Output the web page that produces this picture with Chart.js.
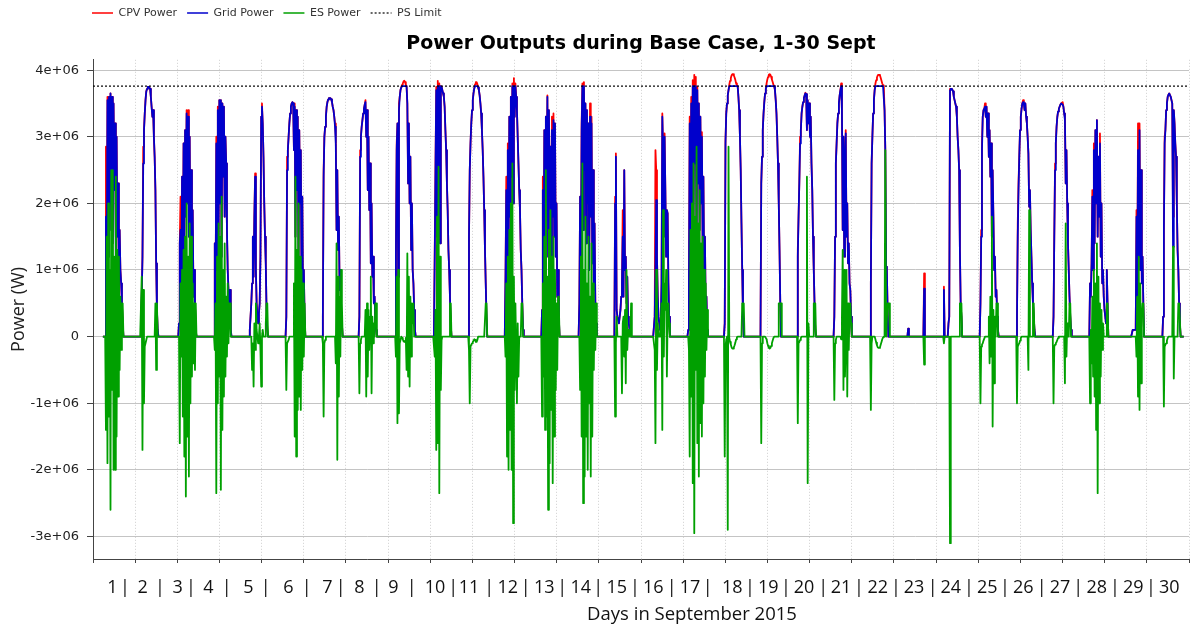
<!DOCTYPE html>
<html><head><meta charset="utf-8">
<script src="https://cdn.jsdelivr.net/npm/chart.js@4.4.1/dist/chart.umd.min.js"></script>
<style>html,body{margin:0;padding:0;background:#fff;}canvas{display:block;}</style>
</head><body>
<canvas id="c" width="1190" height="628"></canvas>
<script>
// ---- data (values in MW, i.e. units of 1e+06 W) ----
const chartTitle = 'Power Outputs during Base Case, 1-30 Sept';
const seriesNames = ['CPV Power', 'Grid Power', 'ES Power', 'PS Limit'];
const xAxisTitle = 'Days in September 2015';
const yAxisTitle = 'Power (W)';
const dayNumbers = [1,2,3,4,5,6,7,8,9,10,11,12,13,14,15,16,17,18,19,20,21,22,23,24,25,26,27,28,29,30];
const sampleHours = [6.5,7,7.5,8,8.5,9,9.5,10,10.5,11,11.5,12,12.5,13,13.5,14,14.5,15,15.5,16,16.5,17,17.5,18,18.5,19,19.5,20,20.5];
const psLimitMW = [3.76, 3.76];
const psLimitDays = [0, 30];

const gridMW = [
[0,0,0,0,1.8,0.6,3.55,1.2,3.6,1.6,3.65,2.0,3.6,1.4,3.5,2.2,3.2,1.0,3.0,1.5,2.3,0.7,1.6,1.0,0.8,0.5,0.2,0,0],
[0,0,0.1,0.6,1.2,2.6,3.1,3.35,3.55,3.68,3.72,3.75,3.75,3.74,3.72,3.6,3.45,3.3,3.4,3.0,2.7,2.2,1.1,0.4,0.1,0,0,0,0],
[0,0,0,0,0.2,1.4,1.6,0.3,2.4,0.8,2.9,1.3,3.1,1.8,3.35,2.0,3.3,1.5,3.0,1.2,2.5,0.8,1.9,0.6,1.0,0.5,0.1,0,0],
[0,0,0,1.4,0.5,2.9,1.0,3.4,1.5,3.55,2.0,3.55,1.2,3.5,2.4,3.45,1.8,3.0,2.6,1.6,1.0,0.7,0.2,0.7,0.1,0,0,0,0],
[0,0.1,0.3,0.5,0.8,1.5,0.9,1.8,2.4,1.0,0.5,0.3,0.2,0.35,0.5,1.2,3.3,3.45,3.2,2.7,2.0,1.5,1.1,0.4,0.1,0,0,0,0],
[0,0.3,2.5,2.8,3.0,3.2,3.35,3.45,3.5,3.52,3.5,2.8,3.45,1.5,3.4,2.2,3.3,1.2,3.1,2.0,2.8,0.8,2.1,0.5,1.0,0.3,0,0,0],
[0,0.3,2.4,3.0,3.15,3.3,3.45,3.52,3.56,3.58,3.58,3.58,3.56,3.52,3.45,3.4,3.3,3.15,2.9,1.6,2.5,1.3,1.8,0.7,1.0,0.3,0.2,0,0],
[0,0.3,2.7,3.0,3.15,3.25,3.35,3.42,3.48,3.52,3.0,3.4,2.2,3.0,1.9,2.6,1.1,2.0,0.9,1.2,0.5,0.6,0.2,0.1,0,0,0,0,0],
[0,1.2,2.8,3.2,0.9,3.4,3.6,3.7,3.74,3.76,3.76,3.76,3.76,3.76,3.76,3.76,3.5,2.3,3.2,2.0,2.7,1.3,2.0,1.0,0.8,0.4,0.1,0,0],
[0,0,0,0.1,1.2,2.5,3.7,1.5,3.76,2.2,3.76,1.4,3.76,3.75,3.7,3.65,3.6,3.45,3.1,2.8,2.3,1.9,1.3,1.0,0.6,0.2,0,0,0],
[0,1.5,2.5,2.9,3.2,3.4,3.55,3.66,3.73,3.76,3.76,3.76,3.76,3.74,3.7,3.62,3.5,3.35,3.1,2.8,2.4,1.9,1.3,0.8,0.3,0,0,0,0],
[0,0.9,2.2,0.7,2.8,1.1,3.3,1.8,3.6,2.4,3.76,2.0,3.76,3.3,3.76,3.6,3.4,3.0,2.6,2.2,1.9,1.3,1.0,0.5,0.1,0,0,0,0],
[0,0.4,2.2,0.8,3.1,1.4,3.3,2.0,3.6,1.2,3.4,2.3,2.85,1.0,3.1,1.8,3.25,1.5,3.2,1.2,2.0,0.6,1.0,0.3,0,0,0,0,0],
[0,0,0.5,2.1,1.0,3.1,3.76,1.6,3.76,2.5,3.5,1.4,3.4,2.0,3.2,1.0,3.3,1.8,3.2,1.1,2.5,0.7,1.7,0.5,0.2,0,0,0,0],
[0,2.0,2.7,0.4,0.3,0.25,0.2,0.3,0.4,0.6,0.8,1.5,0.6,2.5,1.0,1.2,0.5,0.9,0.3,0.2,0.1,0.05,0,0,0,0,0,0,0],
[0,0,0,0,0,0.3,1.0,2.05,1.2,0.6,0.3,0.2,0.1,0.2,0.8,3.3,2.8,1.5,3.0,2.2,1.2,1.9,1.85,0.8,0.3,0,0,0,0],
[0,0.1,0.8,3.2,1.5,3.5,2.0,3.76,1.8,3.76,2.6,3.76,1.4,3.7,2.3,3.5,1.6,3.3,2.0,3.0,1.3,2.4,0.9,1.5,0.4,0.6,0.1,0,0],
[0,0.2,2.9,3.35,3.5,3.62,3.7,3.76,3.76,3.76,3.76,3.76,3.76,3.76,3.76,3.76,3.76,3.76,3.76,3.6,3.4,3.0,2.5,1.7,1.0,0.3,0,0,0],
[0,2.3,2.7,3.1,3.35,3.52,3.65,3.72,3.76,3.76,3.76,3.76,3.76,3.76,3.76,3.76,3.76,3.76,3.76,3.7,3.55,3.35,3.0,2.6,2.0,1.3,0.5,0,0],
[0,1.2,1.8,2.3,2.9,3.1,3.35,3.45,3.52,3.58,3.62,3.65,3.64,3.1,3.55,3.2,3.5,3.0,3.3,2.6,2.2,1.5,1.0,0.5,0.1,0,0,0,0],
[0,0.3,1.5,2.6,2.9,3.2,3.35,3.5,3.62,3.7,3.76,3.4,1.6,3.0,1.2,2.6,3.05,1.5,2.0,1.1,1.4,0.8,0.7,0.3,0,0,0,0,0],
[0,0.8,2.6,3.0,3.35,3.55,3.7,3.76,3.76,3.76,3.76,3.76,3.76,3.76,3.76,3.76,3.76,3.76,3.76,3.4,2.8,1.05,1.0,0.4,0,0,0,0,0],
[0,0,0.12,0,0,0,0,0,0,0,0,0,0,0,0,0,0,0,0,0,0,0,0,0.72,0,0,0,0,0],
[0,0.7,0,0,0,0,0,0.2,0.3,3.7,3.72,3.72,3.71,3.68,3.6,3.55,3.5,3.45,3.3,3.0,2.8,2.5,1.3,0.5,0.3,0,0,0,0],
[0,0.5,1.5,2.8,3.3,3.4,3.42,3.45,3.3,3.45,3.0,3.35,2.7,3.1,2.4,2.9,1.5,2.5,1.8,1.0,1.2,0.6,0.7,0.3,0.1,0,0,0,0],
[0,0.3,1.5,2.2,2.7,3.1,3.3,3.42,3.5,3.52,3.5,3.4,3.5,3.3,3.2,3.0,2.75,1.95,2.2,1.6,1.2,0.8,0.5,0.3,0.1,0,0,0,0],
[0,0.3,1.5,2.5,2.9,3.15,3.3,3.38,3.42,3.45,3.48,3.5,3.5,3.48,3.45,3.35,3.25,2.3,2.8,2.0,1.4,1.0,0.6,0.3,0.1,0,0,0,0],
[0,0.8,0.6,1.1,2.1,1.0,2.8,1.4,3.1,2.0,3.25,1.5,2.7,1.8,2.9,1.2,2.0,0.8,1.0,0.6,0.4,0.3,0.2,1.0,0.5,0,0,0,0],
[0,0,0,0,0,0,0,0,0,0.1,0.1,0.1,0.1,0.1,1.8,0.6,2.8,1.2,3.1,1.0,2.5,0.8,1.2,0.5,0,0,0,0,0],
[0,0.3,1.6,2.9,3.1,3.4,3.5,3.6,3.63,3.65,3.65,3.6,3.55,3.5,1.35,3.4,3.2,2.9,2.7,2.0,1.3,1.0,0.5,0.2,0,0,0,0,0]
];

const cpvMW = [
[0,0,0,0,2.85,0.6,3.6,1.2,3.6,1.6,3.65,2.0,3.6,1.4,3.5,2.2,3.2,1.5,3.0,1.5,2.3,0.7,1.6,1.0,0.8,0.5,0.2,0,0],
[0,0,0.1,0.6,1.2,2.85,3.1,3.35,3.55,3.68,3.72,3.75,3.75,3.74,3.72,3.6,3.45,3.3,3.4,3.0,2.7,2.2,1.1,0.4,0.1,0,0,0,0],
[0,0,0,0,0.2,1.4,2.1,0.3,2.4,0.8,2.9,1.3,3.1,1.8,3.4,2.0,3.4,1.5,3.0,1.2,2.5,0.8,1.9,0.6,1.0,0.5,0.1,0,0],
[0,0,0,1.4,0.5,3.0,1.0,3.45,1.5,3.55,2.0,3.55,1.2,3.5,2.4,3.45,1.8,3.0,2.6,1.6,1.0,0.7,0.2,0.7,0.1,0,0,0,0],
[0,0.1,0.3,0.5,0.8,1.5,0.9,1.8,2.45,1.0,0.5,0.3,0.2,0.35,0.5,1.2,3.3,3.5,3.2,2.7,2.0,1.5,1.1,0.4,0.1,0,0,0,0],
[0,0.3,2.7,2.8,3.0,3.2,3.35,3.45,3.5,3.52,3.5,2.8,3.5,1.5,3.4,2.2,3.3,1.2,3.1,2.0,2.8,0.8,2.1,0.5,1.0,0.3,0,0,0],
[0,0.3,2.5,3.0,3.15,3.3,3.45,3.52,3.56,3.58,3.58,3.58,3.56,3.52,3.45,3.4,3.3,3.2,3.0,1.6,2.5,1.3,1.8,0.7,1.0,0.3,0.2,0,0],
[0,0.3,2.8,3.0,3.15,3.25,3.35,3.42,3.48,3.55,3.0,3.4,2.2,3.0,1.9,2.6,1.1,2.0,0.9,1.2,0.5,0.6,0.2,0.1,0,0,0,0,0],
[0,1.3,2.9,3.2,0.9,3.5,3.6,3.7,3.74,3.78,3.8,3.83,3.84,3.82,3.78,3.76,3.5,2.3,3.2,2.0,2.7,1.3,2.0,1.0,0.8,0.4,0.1,0,0],
[0,0,0,0.1,1.3,2.6,3.75,1.5,3.84,2.2,3.8,1.4,3.76,3.75,3.7,3.65,3.6,3.45,3.1,2.8,2.3,1.9,1.3,1.0,0.6,0.2,0,0,0],
[0,1.5,2.5,2.9,3.2,3.4,3.55,3.66,3.73,3.79,3.82,3.82,3.79,3.74,3.7,3.62,3.5,3.35,3.1,2.8,2.4,1.9,1.3,0.8,0.3,0,0,0,0],
[0,0.9,2.4,0.7,2.9,1.1,3.3,1.8,3.6,2.4,3.8,2.0,3.88,3.3,3.8,3.6,3.4,3.0,2.6,2.2,1.9,1.3,1.0,0.5,0.1,0,0,0,0],
[0,0.4,2.4,0.8,3.1,1.4,3.3,2.0,3.62,1.2,3.4,2.5,2.85,1.0,3.3,1.8,3.35,1.5,3.2,1.2,2.0,0.6,1.0,0.3,0,0,0,0,0],
[0,0,0.5,2.1,1.0,3.2,3.8,1.6,3.82,2.5,3.5,1.4,3.4,2.0,3.2,1.0,3.5,1.8,3.3,1.1,2.5,0.7,1.7,0.5,0.2,0,0,0,0],
[0,2.1,2.75,0.4,0.3,0.25,0.2,0.3,0.4,0.6,0.8,1.9,0.6,2.5,1.0,1.2,0.5,0.9,0.3,0.2,0.1,0.05,0,0,0,0,0,0,0],
[0,0,0,0,0,0.3,2.8,2.5,1.2,0.6,0.3,0.2,0.1,0.2,0.8,3.35,2.8,1.5,3.05,2.2,1.2,1.9,1.85,0.8,0.3,0,0,0,0],
[0,0.1,0.8,3.3,1.5,3.6,2.0,3.85,1.8,3.93,2.6,3.9,1.4,3.75,2.3,3.5,1.6,3.3,2.0,3.07,1.3,2.4,0.9,1.5,0.4,0.6,0.1,0,0],
[0,0.2,2.95,3.35,3.5,3.62,3.7,3.78,3.84,3.88,3.92,3.94,3.94,3.92,3.89,3.85,3.8,3.77,3.76,3.6,3.4,3.0,2.5,1.7,1.0,0.3,0,0,0],
[0,2.3,2.7,3.1,3.35,3.52,3.65,3.72,3.8,3.86,3.9,3.93,3.94,3.93,3.9,3.86,3.82,3.78,3.76,3.7,3.55,3.35,3.0,2.6,2.0,1.3,0.5,0,0],
[0,1.3,1.8,2.3,3.0,3.1,3.35,3.45,3.52,3.58,3.62,3.66,3.64,3.1,3.55,3.2,3.5,3.0,3.3,2.6,2.2,1.5,1.0,0.5,0.1,0,0,0,0],
[0,0.3,1.5,2.6,2.9,3.2,3.35,3.5,3.62,3.7,3.8,3.4,1.6,3.0,1.2,2.6,3.1,1.5,2.0,1.1,1.4,0.8,0.7,0.3,0,0,0,0,0],
[0,0.8,2.6,3.0,3.35,3.55,3.7,3.8,3.85,3.89,3.92,3.93,3.93,3.92,3.88,3.84,3.8,3.77,3.76,3.4,2.8,1.05,1.0,0.4,0,0,0,0,0],
[0,0,0.12,0,0,0,0,0,0,0,0,0,0,0,0,0,0,0,0,0,0,0,0,0.95,0,0,0,0,0],
[0,0.75,0,0,0,0,0,0.2,0.3,3.72,3.72,3.72,3.71,3.68,3.6,3.55,3.5,3.45,3.3,3.0,2.8,2.5,1.3,0.5,0.3,0,0,0,0],
[0,0.5,1.6,2.9,3.3,3.4,3.42,3.5,3.3,3.45,3.0,3.35,2.7,3.1,2.4,2.9,1.5,2.5,1.8,1.0,1.2,0.6,0.7,0.3,0.1,0,0,0,0],
[0,0.3,1.7,2.3,2.7,3.1,3.3,3.42,3.5,3.55,3.5,3.4,3.5,3.3,3.2,3.0,2.75,1.95,2.2,1.6,1.2,0.8,0.5,0.3,0.1,0,0,0,0],
[0,0.3,1.5,2.6,2.9,3.15,3.3,3.38,3.42,3.45,3.48,3.5,3.5,3.52,3.45,3.35,3.3,2.3,2.8,2.0,1.4,1.0,0.6,0.3,0.1,0,0,0,0],
[0,0.8,0.6,1.1,2.2,1.0,2.9,1.4,3.1,2.0,3.25,1.5,2.7,1.8,3.05,1.2,2.0,0.8,1.0,0.6,0.4,0.3,0.2,1.0,0.5,0,0,0,0],
[0,0,0,0,0,0,0,0,0,0.1,0.1,0.1,0.1,0.1,1.9,0.6,3.2,1.2,3.2,1.0,2.5,0.8,1.2,0.5,0,0,0,0,0],
[0,0.3,1.6,3.0,3.1,3.4,3.5,3.6,3.63,3.65,3.65,3.6,3.55,3.5,1.8,3.4,3.2,2.9,2.7,2.0,1.3,1.0,0.5,0.2,0,0,0,0,0]
];

const esMW = [
[0,0,0,0,-1.4,1.5,-1.9,2.0,-1.2,1.0,-2.6,2.5,-0.8,2.5,-2.0,1.2,-2.0,2.4,-1.5,1.3,-0.9,1.2,-0.5,0.6,-0.2,0.5,0.5,0,0],
[0,0,0,0.9,-1.7,0.7,-1.0,-0.15,-0.1,-0.05,0,0,0,0,0,0,0,0,0,0,0,0.5,-0.5,0.5,0,0,0,0,0],
[0,0,0,0,0,-1.6,0.8,-0.3,1.0,-1.2,1.3,-1.8,1.5,-2.4,2.0,-1.5,1.2,-2.1,1.7,-1.0,1.5,-0.6,0.8,-0.4,0.5,-0.5,0.5,0,0],
[0,0,0,-0.2,0.5,-2.35,1.2,-1.0,1.7,-0.6,1.5,-2.3,2.1,-1.4,1.0,-0.9,1.4,-0.6,0.6,-0.3,0.8,-0.1,0.5,0.5,0,0,0,0,0],
[0,0,0,0,-0.5,-0.1,-0.75,0.2,-0.2,0.5,0.1,0,-0.1,0,0.2,-0.2,-0.75,0,0.1,0,0,0,0.2,0.5,0.5,0,0,0,0],
[0,-0.8,-0.1,-0.1,-0.05,0,0,0,0,0,0,0.8,-1.5,2.4,-1.8,1.3,-1.1,2.0,-0.9,1.2,-1.1,1.0,-0.5,0.8,-0.3,0.5,0,0,0],
[0,-0.1,-1.2,-0.1,-0.05,0,0,0,0,0,0,0,0,0,0,0,0,0,-0.4,1.4,-1.85,0.9,-0.9,0.6,-0.3,1.0,0.5,0,0],
[0,-0.85,-0.1,-0.05,0,0,0,0,0,0.4,-0.9,0.5,-0.6,0.4,-0.2,0.3,0.9,-0.85,0.3,-0.1,0.2,0,0.5,0.5,0,0,0,0,0],
[0,-0.3,0.9,-1.3,1.0,-1.15,-0.1,-0.05,0,-0.02,-0.04,-0.07,-0.08,-0.06,-0.02,-0.5,1.25,-0.6,0.9,-0.75,0.6,-0.3,0.5,0.2,0.5,0,0,0,0],
[0,0,0,0,-0.3,0.4,-1.7,1.8,-1.6,2.55,-2.35,1.2,-0.8,-0.05,0,0,0,0,0,0,0,0,0,0,0.5,0.5,0,0,0],
[0,-0.2,-1.0,-0.15,-0.12,-0.1,-0.08,-0.06,-0.04,-0.05,-0.08,-0.08,-0.05,0,0,0,0,0,0,0,0,0,0,0.5,0.5,0,0,0,0],
[0,-0.3,0.8,-1.8,1.2,-2.0,1.6,-1.4,2.0,-2.0,2.6,-2.8,0.9,-0.8,0.5,-0.2,-1.0,0.2,-0.6,0,0,0,0.5,0.5,0,0,0,0,0],
[0,-1.2,0.8,-0.6,1.5,-1.4,2.5,-1.2,0.9,-2.6,1.6,-1.9,1.9,-1.1,1.2,-2.2,1.5,-1.5,1.0,-0.8,0.5,-0.5,0.6,0.5,0,0,0,0,0],
[0,0,0,-0.8,1.2,-1.5,2.6,-2.5,1.0,-2.1,1.8,-1.5,0.8,-2.0,1.5,-1.0,0.6,-2.1,1.4,-1.5,0.8,-0.5,0.5,-0.2,0.5,0,0,0,0],
[0,-1.2,-0.1,0.3,0,0,0,0,0,0,-0.85,0.2,0.3,-0.3,0.4,-0.7,1.0,-0.2,0.1,0,0,0,0.5,0,0,0,0,0,0],
[0,0,0,0,0,-0.2,-1.6,1.0,-0.5,0.2,0,0,0,0,0.5,-1.4,1.9,-0.3,0.8,0.4,1.0,-0.6,0.3,0.5,0.2,0,0,0,0],
[0,0,-0.2,-1.8,1.6,-0.9,2.0,-2.2,2.6,-2.95,1.8,-0.5,2.85,-1.6,1.7,-2.1,2.2,-1.3,1.4,-1.5,1.5,-1.0,1.0,-0.6,0.8,-0.2,0.4,0,0],
[0,-1.8,-0.15,-0.05,0,-2.9,2.85,-0.02,-0.08,-0.12,-0.16,-0.18,-0.18,-0.16,-0.13,-0.09,-0.04,-0.01,0,0,0,0,0,0,0.5,0.5,0.5,0,0],
[0,-1.6,-0.1,0,0,0,0,0,-0.04,-0.1,-0.14,-0.17,-0.18,-0.17,-0.14,-0.1,-0.06,-0.02,0,0,0,0,0,0,0.5,0.5,0.5,0.5,0],
[0,-1.3,-0.1,-0.08,-0.05,-0.02,0,0,0,0,0,0,0,2.4,-2.2,0.2,0,0,0,0,0,0,0.5,0.5,0.5,0,0,0,0],
[0,-0.95,-0.1,-0.05,0,0,0,0,0,0,-0.04,0.3,1.3,-0.8,1.0,-0.6,-0.05,1.0,-0.9,0.5,-0.2,0.4,0.5,0.2,0,0,0,0,0],
[0,-1.1,-0.1,0,0,0,0,-0.04,-0.09,-0.13,-0.16,-0.17,-0.17,-0.16,-0.12,-0.08,-0.04,-0.01,0,0,2.8,0,0,0.5,0.5,0.5,0,0,0],
[0,0,0,0,0,0,0,0,0,0,0,0,0,0,0,0,0,0,0,0,0,0,0,-0.42,0,0,0,0,0],
[0,-0.1,0,0,0,0,0,0,0,-3.1,0,0,0,0,0,0,0,0,0,0,0,0,0.5,0.5,0.5,0,0,0,0],
[0,-1.0,-0.15,-0.12,-0.1,-0.06,-0.03,0,0,0,0,0,0.3,-0.4,0.6,-0.3,1.8,-1.35,0.4,-0.7,0.3,0,0.5,0.5,0,0,0,0,0],
[0,-1.0,-0.15,-0.12,-0.1,-0.06,-0.02,0,0,0,0,0,0,0,0,0,-0.5,1.9,0,0,0,0,0.5,0.5,0,0,0,0,0],
[0,-1.0,-0.15,-0.12,-0.1,-0.08,-0.05,-0.02,0,0,0,0,0,0,0,0,-0.7,1.7,-0.3,0.2,0,0,0.5,0.5,0,0,0,0,0],
[0,-1.0,0.1,-0.4,0.6,-0.6,1.0,-0.9,0.8,-1.4,1.4,-2.35,0.9,-1.0,0.5,-0.6,0.4,-0.2,0.2,0,0,0,0,0.5,0.5,0,0,0,0],
[0,0,0,0,0,0,0,0,0,0,0,0,0,0,-0.3,0.6,-0.9,1.2,-1.1,0.8,-0.7,0.3,0.5,0.5,0,0,0,0,0],
[0,0,-1.05,-0.15,-0.12,-0.1,-0.06,-0.02,0,0,0,0,0,0,1.35,-0.63,0,0,0,0,0,0.5,0.5,0.5,0,0,0,0,0]
];

// text layout of the day-number row under the axis (pixel centres)
const dayLabelPx = [112.3,142.7,177.7,208.3,248.3,288.3,327.3,359.3,393.3,435,469,507.7,544.3,580.7,616.7,653.3,690,732.3,768.3,804,841,877.7,914,950.7,987.3,1023.3,1060,1096.7,1133.3,1169.3];
const separatorPx = [125,160,191,226.7,265.7,306.7,340.7,376.7,411.7,453.3,489.3,525.7,562.3,598.3,635,671.7,707.7,750,786,823.3,859,896,932.7,969,1005,1041.7,1078.3,1115,1151];

// ---- build ----
const SEC_PER_DAY = 86400;
function toPoints(rows) {
  const pts = [];
  rows.forEach((row, d) => row.forEach((v, i) => {
    pts.push({ x: (d * 24 + sampleHours[i]) * 3600, y: v });
  }));
  return pts;
}
const psPoints = psLimitDays.map((d, i) => ({ x: d * SEC_PER_DAY, y: psLimitMW[i] }));

Chart.defaults.font.family = 'DejaVu Sans';

const lineBase = { pointRadius: 0, pointHoverRadius: 0, borderWidth: 1.8, borderJoinStyle: 'round', fill: false, tension: 0 };

const extras = {
  id: 'extras',
  afterLayout(chart) {
    const lg = chart.legend;
    if (lg) { lg.left -= 11; lg.right -= 11; lg.top -= 2.5; lg.bottom -= 2.5; }
  },
  afterDraw(chart) {
    const ctx = chart.ctx;
    ctx.save();
    ctx.fillStyle = '#111';
    ctx.textAlign = 'center';
    ctx.textBaseline = 'alphabetic';
    ctx.font = '18px "Open Sans"';
    dayNumbers.forEach((d, i) => ctx.fillText(String(d), dayLabelPx[i], 592.5));
    separatorPx.forEach(x => ctx.fillText('|', x, 592.5));
    ctx.font = '18.5px "Open Sans"';
    ctx.fillText(xAxisTitle, 692, 620);
    ctx.restore();
  }
};

const isMajorY = v => Math.abs(v - Math.round(v)) < 1e-6;
const isMajorX = v => Math.abs(v % 500000) < 1e-6;

new Chart(document.getElementById('c'), {
  type: 'line',
  data: {
    datasets: [
      Object.assign({ label: seriesNames[0], data: toPoints(cpvMW), borderColor: '#ff0000', order: 4 }, lineBase),
      Object.assign({ label: seriesNames[1], data: toPoints(gridMW), borderColor: '#0000cc', order: 3 }, lineBase),
      Object.assign({ label: seriesNames[2], data: toPoints(esMW), borderColor: '#00a000', order: 2 }, lineBase),
      Object.assign({}, lineBase, { label: seriesNames[3], data: psPoints, borderColor: '#000000', borderWidth: 1.2, borderDash: [2, 2], order: 1 })
    ]
  },
  options: {
    responsive: false,
    animation: false,
    events: [],
    layout: { padding: { left: 0, right: 1, top: 0, bottom: 0 } },
    plugins: {
      tooltip: { enabled: false },
      legend: {
        position: 'top', align: 'start', fullSize: false, weight: 1000,
        labels: {
          usePointStyle: true, pointStyleWidth: 21, padding: 10,
          font: { family: 'DejaVu Sans', size: 11 }, color: '#333',
          generateLabels: (chart) => chart.data.datasets.map((ds, i) => ({
            text: ds.label, datasetIndex: i, hidden: false,
            strokeStyle: ds.borderColor, fillStyle: ds.borderColor,
            lineWidth: i === 3 ? 1.2 : 1.6, lineDash: ds.borderDash || [],
            pointStyle: 'line', fontColor: '#333'
          }))
        }
      },
      title: {
        display: true, text: chartTitle, fullSize: false, weight: 500,
        color: '#000', font: { family: 'DejaVu Sans', size: 19, weight: 'bold' },
        padding: { top: 2, bottom: 4 }
      }
    },
    scales: {
      x: {
        type: 'linear', min: 0, max: 30 * SEC_PER_DAY,
        ticks: { display: false, stepSize: 100000, includeBounds: false, autoSkip: false },
        grid: {
          color: c => (c.tick && isMajorX(c.tick.value)) ? '#bdbdbd' : '#cfcfcf',
          lineWidth: 1, tickLength: 4, tickColor: '#444', drawTicks: true
        },
        border: { display: true, color: '#444', width: 1,
          dash: c => (c.tick && !isMajorX(c.tick.value)) ? [1, 2] : [] },
        afterFit: s => { s.height = 69; }
      },
      y: {
        min: -3.338, max: 4.155,
        ticks: {
          stepSize: 0.2, includeBounds: false, autoSkip: false, padding: 8,
          color: '#222', font: { family: 'DejaVu Sans', size: 13 },
          callback: v => { if (!isMajorY(v)) return null; const r = Math.round(v); return r === 0 ? '0' : r + 'e+06'; }
        },
        grid: {
          color: c => (c.tick && isMajorY(c.tick.value)) ? '#c4c4c4' : '#d2d2d2',
          lineWidth: 1, tickLength: 6, tickColor: '#444', drawTicks: true
        },
        border: { display: true, color: '#444', width: 1,
          dash: c => (c.tick && !isMajorY(c.tick.value)) ? [1, 2] : [] },
        title: { display: true, text: yAxisTitle, color: '#222', font: { family: 'Open Sans', size: 18 }, padding: { top: 8, bottom: 0 } },
        afterFit: s => { s.width = 93; }
      }
    }
  },
  plugins: [extras]
});
</script>
</body></html>
